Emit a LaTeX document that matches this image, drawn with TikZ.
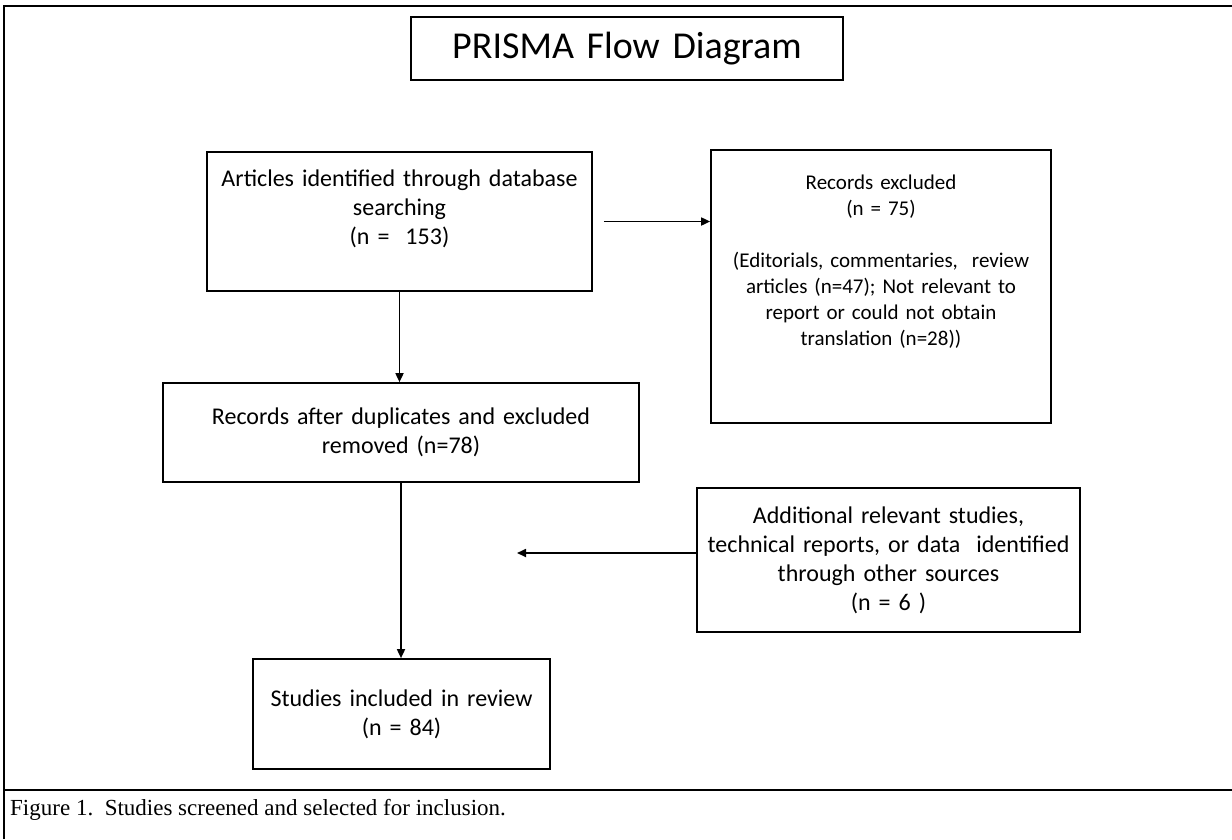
\documentclass[tikz,border=0pt]{standalone}
\usepackage{fontspec}
\setmainfont[WordSpace=0.8]{Carlito}
\newfontfamily\capfont{Liberation Serif}
\usetikzlibrary{arrows.meta, positioning}

\begin{document}
\begin{tikzpicture}[
  x=1pt, y=-1pt,
  font=\fontsize{24}{29}\selectfont,
  stage/.style={
    draw=black, line width=1.7pt, align=center,
    inner xsep=10pt, inner ysep=0pt
  },
  flow/.style={line width=1.7pt, -{Triangle[length=9pt, width=8pt]}}
]
  \useasboundingbox (0,0) rectangle (1232,839);
  % cell frame and caption rule
  \draw[line width=1.2pt] (4,839) -- (4,6) -- (1232,6);
  \draw[line width=1.2pt] (4,790) -- (1232,790);

  \node[stage, text width=412pt, minimum height=63pt, font=\fontsize{38}{46}\selectfont] (title) at (627,48.5) {PRISMA Flow Diagram};
  \node[stage, text width=365pt, minimum height=139pt] (ident) at (399.5,221.5) {Articles identified through database\\ searching\\ (n = \ 153)\\ \mbox{}};
  \node[stage, text width=320pt, minimum height=273pt, font=\fontsize{21}{26}\selectfont] (excl) at (881,286.5) {Records excluded\\ (n = 75)\\ \mbox{}\\ (Editorials, commentaries, \ review\\ articles (n=47); Not relevant to\\ report or could not obtain\\ translation (n=28))\\ \mbox{}\\ \mbox{}};
  \node[stage, text width=456pt, minimum height=99pt] (dedup) at (401,432.5) {Records after duplicates and excluded\\ removed (n=78)};
  \node[stage, text width=363pt, minimum height=144pt] (other) at (888.5,560) {Additional relevant studies,\\ technical reports, or data \ identified\\ through other sources\\ (n = 6 )};
  \node[stage, text width=277pt, minimum height=110pt] (incl) at (401.5,714) {Studies included in review\\ (n = 84)};
  \node[anchor=west, inner sep=0pt, font=\capfont\fontsize{23}{28}\selectfont] (cap) at (10,810) {Figure 1.\ \ Studies screened and selected for inclusion.};

  \coordinate (join) at (517,553);

  \draw[flow] (ident.south) -- (ident.south |- dedup.north);
  \draw[flow] ([xshift=11pt]ident.east) -- (ident.east -| excl.west);
  \draw[flow] (dedup.south) -- (dedup.south |- incl.north);
  \draw[flow] (other.west |- join) -- (join);
\end{tikzpicture}
\end{document}
